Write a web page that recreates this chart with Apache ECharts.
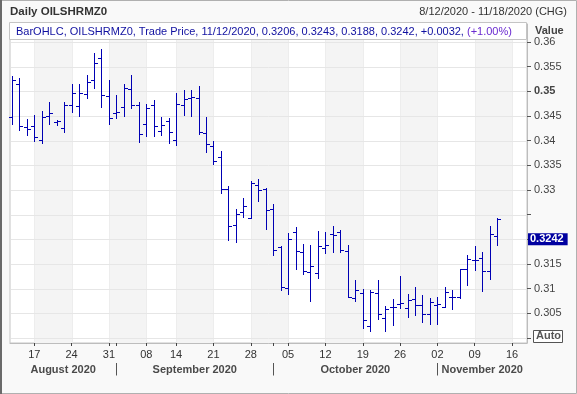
<!DOCTYPE html>
<html><head><meta charset="utf-8">
<script src="https://cdn.jsdelivr.net/npm/echarts@6/dist/echarts.min.js"></script>
<style>html,body{margin:0;padding:0;background:#f9f9f9}#c{width:577px;height:394px}</style>
</head><body><div id="c"></div>
<script>
// ---- data ----
const dates = [
 '2020-08-12','2020-08-13','2020-08-14','2020-08-17','2020-08-18','2020-08-19','2020-08-20','2020-08-21',
 '2020-08-24','2020-08-25','2020-08-26','2020-08-27','2020-08-28','2020-08-31',
 '2020-09-01','2020-09-02','2020-09-03','2020-09-04','2020-09-08','2020-09-09','2020-09-10','2020-09-11',
 '2020-09-14','2020-09-15','2020-09-16','2020-09-17','2020-09-18','2020-09-21','2020-09-22','2020-09-23',
 '2020-09-24','2020-09-25','2020-09-28','2020-09-29','2020-09-30',
 '2020-10-01','2020-10-02','2020-10-05','2020-10-06','2020-10-07','2020-10-08','2020-10-09','2020-10-12',
 '2020-10-13','2020-10-14','2020-10-15','2020-10-16','2020-10-19','2020-10-20','2020-10-21','2020-10-22',
 '2020-10-23','2020-10-26','2020-10-27','2020-10-28','2020-10-29','2020-10-30',
 '2020-11-02','2020-11-03','2020-11-04','2020-11-05','2020-11-06','2020-11-09','2020-11-10','2020-11-11',
 '2020-11-12','2020-11-13','2020-11-16','2020-11-17','2020-11-18'
];
const openP  = [0.3447,0.3515,0.3427,0.3429,0.3401,0.3449,0.3438,0.3425,0.3473,0.3471,0.3495,0.3523,0.3568,0.3490,
  0.3456,0.3469,0.3505,0.3473,0.3434,0.3473,0.3419,0.3439,0.3401,0.3472,0.3486,0.3486,0.3416,0.3390,0.3367,0.3302,
  0.3230,0.3256,0.3244,0.3311,0.3301,0.3262,0.3185,0.3102,0.3215,0.3175,0.3133,0.3131,0.3183,0.3211,0.3214,0.3177,
  0.3081,0.3092,0.3024,0.3092,0.3040,0.3063,0.3068,0.3061,0.3078,0.3067,0.3048,0.3066,0.3063,0.3084,0.3083,0.3139,
  0.3159,0.3162,0.3136,0.3206];
const highP  = [0.3531,0.3528,0.3443,0.3452,0.3460,0.3478,0.3441,0.3478,0.3514,0.3514,0.3533,0.3578,0.3586,0.3523,
  0.3493,0.3515,0.3534,0.3479,0.3475,0.3482,0.3448,0.3446,0.3496,0.3502,0.3502,0.3511,0.3448,0.3400,0.3379,0.3308,
  0.3261,0.3283,0.3318,0.3323,0.3305,0.3271,0.3187,0.3212,0.3224,0.3190,0.3189,0.3216,0.3214,0.3228,0.3219,0.3189,
  0.3118,0.3099,0.3098,0.3117,0.3065,0.3078,0.3126,0.3090,0.3104,0.3088,0.3081,0.3083,0.3104,0.3098,0.3140,0.3169,
  0.3187,0.3174,0.3226,0.3243];
const lowP   = [0.3433,0.3421,0.3411,0.3400,0.3395,0.3433,0.3432,0.3417,0.3458,0.3451,0.3487,0.3506,0.3469,0.3433,
  0.3445,0.3449,0.3467,0.3398,0.3410,0.3410,0.3412,0.3395,0.3392,0.3453,0.3449,0.3413,0.3377,0.3352,0.3294,0.3198,
  0.3195,0.3245,0.3243,0.3277,0.3220,0.3169,0.3098,0.3090,0.3140,0.3130,0.3075,0.3121,0.3173,0.3174,0.3174,0.3083,
  0.3075,0.3021,0.3014,0.3038,0.3014,0.3026,0.3061,0.3042,0.3046,0.3032,0.3029,0.3028,0.3062,0.3059,0.3082,0.3107,
  0.3138,0.3095,0.3119,0.3188];
const closeP = [0.3523,0.3429,0.3423,0.3407,0.3447,0.3456,0.3440,0.3473,0.3497,0.3497,0.3519,0.3557,0.3492,0.3445,
  0.3459,0.3507,0.3473,0.3413,0.3467,0.3429,0.3431,0.3417,0.3474,0.3484,0.3488,0.3418,0.3394,0.3359,0.3301,0.3226,
  0.3252,0.3267,0.3314,0.3299,0.3260,0.3179,0.3104,0.3201,0.3177,0.3135,0.3146,0.3187,0.3189,0.3208,0.3179,0.3083,
  0.3098,0.3036,0.3094,0.3048,0.3058,0.3063,0.3070,0.3076,0.3067,0.3049,0.3073,0.3068,0.3094,0.3083,0.3139,0.3160,
  0.3159,0.3136,0.3210,0.3242];
const weekStarts = ['2020-08-17','2020-08-24','2020-08-31','2020-09-08','2020-09-14','2020-09-21','2020-09-28',
  '2020-10-05','2020-10-12','2020-10-19','2020-10-26','2020-11-02','2020-11-09','2020-11-16'];
const dayLabels = ['17','24','31','08','14','21','28','05','12','19','26','02','09','16'];
const monthStarts = ['2020-09-01','2020-10-01','2020-11-02'];
const monthLabels = ['August 2020','September 2020','October 2020','November 2020'];
const yGridValues = [0.30,0.305,0.31,0.315,0.32,0.325,0.33,0.335,0.34,0.345,0.35,0.355,0.36];
const yLabelValues = [0.305,0.31,0.315,0.32,0.33,0.335,0.34,0.345,0.35,0.355,0.36];

// ---- build ----
const FONT = 'Liberation Sans';
const BLUE = '#0000b4';
const idx = d => dates.indexOf(d);
const X_MIN = -0.25, X_MAX = dates.length - 1;
const Y_MIN = 0.29898, Y_MAX = 0.36365;
const weekIdx = weekStarts.map(idx);
const monthIdx = monthStarts.map(idx);
const bounds = [X_MIN, ...monthIdx, X_MAX];
const monthCenters = monthLabels.map((m, i) => (bounds[i] + bounds[i + 1]) / 2);
const bandRows = [];
for (let i = 0; i + 1 < weekIdx.length; i += 2) bandRows.push([weekIdx[i], weekIdx[i + 1]]);
const ohlc = openP.map((o, i) => [i, o, highP[i], lowP[i], closeP[i]]);
const lastClose = closeP[closeP.length - 1];
const fmtY = v => String(+v.toFixed(4));
const r = v => Math.round(v) + 0.5;

function renderOHLC(params, api) {
  const i = api.value(0);
  const pO = api.coord([i, api.value(1)]);
  const pH = api.coord([i, api.value(2)]);
  const pL = api.coord([i, api.value(3)]);
  const pC = api.coord([i, api.value(4)]);
  const x = r(pO[0]);
  const style = {stroke: BLUE, lineWidth: 1};
  return {type: 'group', children: [
    {type: 'line', shape: {x1: x, y1: Math.round(pH[1]), x2: x, y2: Math.round(pL[1]) + 1}, style},
    {type: 'line', shape: {x1: x - 3.5, y1: r(pO[1]), x2: x, y2: r(pO[1])}, style},
    {type: 'line', shape: {x1: x, y1: r(pC[1]), x2: x + 3.5, y2: r(pC[1])}, style}
  ]};
}
function renderBand(params, api) {
  const a = api.coord([api.value(0), Y_MAX]);
  const b = api.coord([api.value(1), Y_MIN]);
  return {type: 'rect', shape: {x: Math.round(a[0]), y: a[1], width: Math.round(b[0]) - Math.round(a[0]), height: b[1] - a[1]},
    style: {fill: '#f4f4f4'}};
}
function renderHLine(params, api) {
  const a = api.coord([X_MIN, api.value(1)]);
  const b = api.coord([X_MAX, api.value(1)]);
  const y = r(a[1]);
  return {type: 'line', shape: {x1: a[0] + 1, y1: y, x2: b[0] - 1, y2: y}, style: {stroke: '#e6e6e6', lineWidth: 1}};
}
function renderVLine(params, api) {
  const a = api.coord([api.value(0), Y_MAX]);
  const b = api.coord([api.value(0), Y_MIN]);
  const x = Math.round(a[0]) + 0.5;
  return {type: 'line', shape: {x1: x, y1: a[1], x2: x, y2: b[1]}, style: {stroke: '#ededed', lineWidth: 1}};
}

const chart = echarts.init(document.getElementById('c'), null, {renderer: 'canvas'});
chart.setOption({
  animation: false,
  backgroundColor: '#f9f9f9',
  textStyle: {fontFamily: FONT},
  grid: {left: 10, right: 50, top: 24, bottom: 51, show: true, backgroundColor: '#ffffff', borderColor: '#c4c4c4', borderWidth: 1},
  xAxis: [{
    type: 'value', min: X_MIN, max: X_MAX, position: 'bottom',
    axisLine: {show: true, onZero: false, lineStyle: {color: '#bdbdbd'}},
    axisTick: {show: true, length: 3, customValues: weekIdx.concat(monthIdx), lineStyle: {color: '#444'}},
    axisLabel: {show: true, customValues: weekIdx, margin: 6, fontSize: 11, fontFamily: FONT, color: '#333',
      formatter: v => dayLabels[weekIdx.indexOf(Math.round(v))] || ''},
    splitLine: {show: false}
  }, {
    type: 'value', min: X_MIN, max: X_MAX, position: 'bottom', offset: 20,
    axisLine: {show: false, onZero: false},
    axisTick: {show: true, length: 12.5, customValues: monthIdx, lineStyle: {color: '#555', width: 1}},
    axisLabel: {show: true, customValues: monthCenters, margin: 1, fontSize: 11, fontWeight: 'bold', fontFamily: FONT, color: '#4a4a4a',
      formatter: v => { const k = monthCenters.findIndex(c => Math.abs(c - v) < 1e-6); return k >= 0 ? monthLabels[k] : ''; }},
    splitLine: {show: false}
  }],
  yAxis: {
    type: 'value', position: 'right', min: Y_MIN, max: Y_MAX,
    axisLine: {show: true, onZero: false, lineStyle: {color: '#bdbdbd'}},
    axisTick: {show: true, length: 4, customValues: yGridValues, lineStyle: {color: '#555'}},
    axisLabel: {show: true, customValues: yLabelValues, margin: 7, fontSize: 11, fontFamily: FONT, color: '#444',
      formatter: v => { const s = fmtY(v); return Math.abs(v - 0.35) < 1e-9 ? '{b|' + s + '}' : s; },
      rich: {b: {fontWeight: 'bold', fontSize: 11, fontFamily: FONT, color: '#444'}}},
    splitLine: {show: false}
  },
  series: [{
    type: 'custom', renderItem: renderBand, data: bandRows, silent: true, z: 0, clip: true,
    encode: {x: [0, 1]}
  }, {
    type: 'custom', renderItem: renderVLine, data: weekIdx.map(v => [v, Y_MIN]), silent: true, z: 1, clip: true,
    encode: {x: 0, y: 1}
  }, {
    type: 'custom', renderItem: renderHLine, data: yGridValues.map(v => [X_MIN, v]), silent: true, z: 1, clip: true,
    encode: {x: 0, y: 1}
  }, {
    type: 'custom', name: 'OILSHRMZ0', renderItem: renderOHLC, data: ohlc, silent: true, z: 3,
    encode: {x: 0, y: [1, 2, 3, 4]}
  }, {
    type: 'line', data: [], silent: true, z: 5,
    markLine: {silent: true, symbol: ['none', 'none'], symbolSize: 0,
      lineStyle: {width: 0, color: 'rgba(0,0,0,0)'},
      label: {show: true, position: 'end', distance: 1, formatter: () => fmtY(lastClose),
        backgroundColor: '#0000a0', color: '#ffffff', fontWeight: 'bold', fontSize: 11, fontFamily: FONT, padding: [1, 4, 0, 2]},
      data: [{yAxis: lastClose}]}
  }],
  graphic: [
    {type: 'rect', shape: {x: 0.5, y: 0.5, width: 576, height: 393}, style: {fill: null, stroke: '#b0b0b0', lineWidth: 1}, silent: true},
    {type: 'rect', shape: {x: 0, y: 0, width: 2, height: 394}, style: {fill: '#6a6a6a'}, silent: true},
    {type: 'text', left: 10, top: 6, style: {text: 'Daily OILSHRMZ0', font: 'bold 11.5px "Liberation Sans"', fill: '#333'}},
    {type: 'text', right: 10, top: 6, style: {text: '8/12/2020 - 11/18/2020 (CHG)', font: '11px "Liberation Sans"', fill: '#333'}},
    {type: 'rect', shape: {x: 9.5, y: 22.5, width: 517, height: 17}, style: {fill: '#ffffff', stroke: '#c4c4c4', lineWidth: 1}, silent: true, z: 10},
    {type: 'text', left: 16, top: 26, z: 11, style: {
      text: '{a|BarOHLC, OILSHRMZ0, Trade Price, 11/12/2020, 0.3206, 0.3243, 0.3188, 0.3242, +0.0032, }{p|(+1.00%)}',
      rich: {a: {font: '11px "Liberation Sans"', fill: '#1010a0'}, p: {font: '11px "Liberation Sans"', fill: '#6a2ad0'}}}},
    {type: 'text', left: 535, top: 25, style: {text: 'Value', font: 'bold 11px "Liberation Sans"', fill: '#444'}},
    {type: 'rect', shape: {x: 533.5, y: 330.5, width: 29, height: 12}, style: {fill: '#ffffff', stroke: '#555', lineWidth: 1}, silent: true, z: 10},
    {type: 'text', left: 536, top: 330.5, z: 11, style: {text: 'Auto', font: 'bold 11px "Liberation Sans"', fill: '#555'}}
  ]
});
</script></body></html>
